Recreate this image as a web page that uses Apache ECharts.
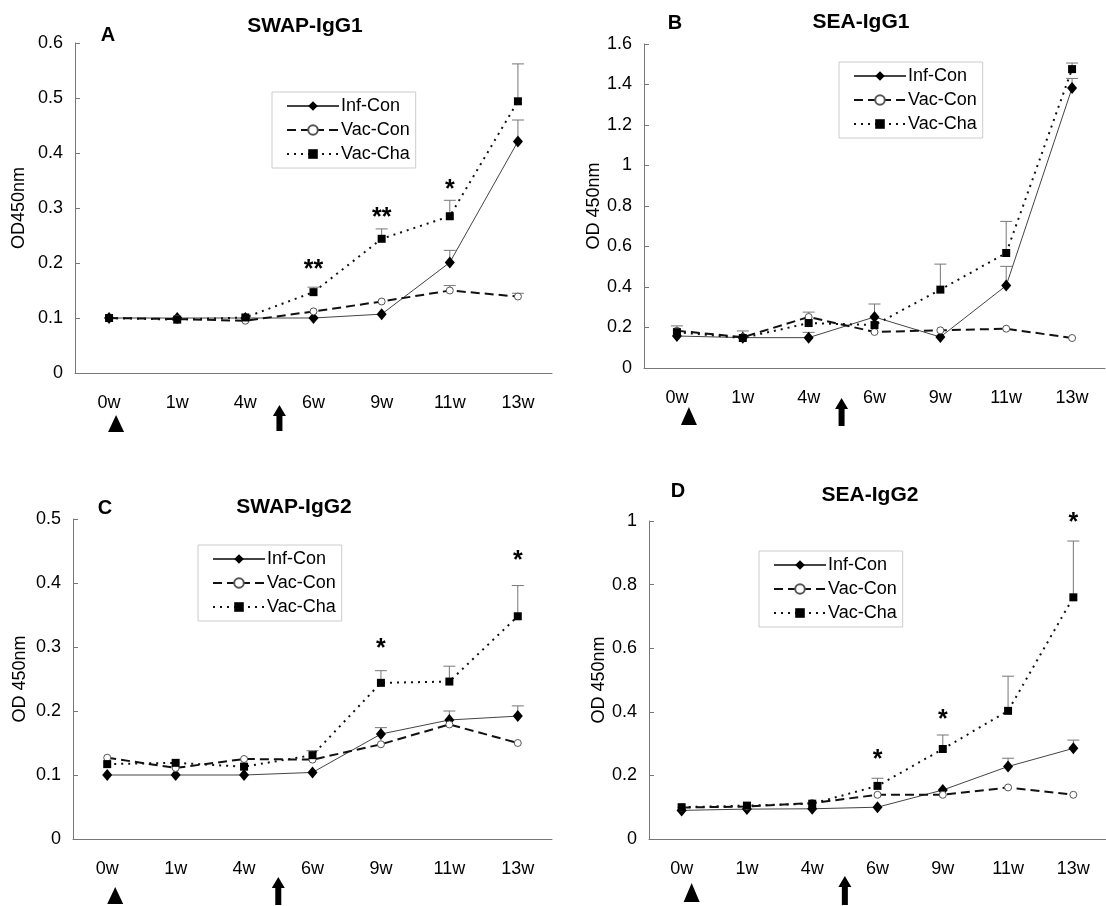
<!DOCTYPE html>
<html><head><meta charset="utf-8">
<script src="https://cdn.jsdelivr.net/npm/echarts@6/dist/echarts.min.js"></script>
<style>html,body{margin:0;padding:0;background:#fff}#c{width:1106px;height:906px}</style>
</head><body><div id="c"></div>
<script>
const categories = ['0w','1w','4w','6w','9w','11w','13w'];
const seriesNames = ['Inf-Con','Vac-Con','Vac-Cha'];

// Panel A: SWAP-IgG1
const aInfCon     = [0.100, 0.100, 0.100, 0.100, 0.107, 0.201, 0.421];
const aInfConErr  = [null, null, null, null, null, 0.223, 0.460];
const aVacCon     = [0.100, 0.098, 0.095, 0.112, 0.130, 0.150, 0.139];
const aVacConErr  = [null, null, null, null, null, 0.159, 0.145];
const aVacCha     = [0.100, 0.097, 0.101, 0.147, 0.244, 0.285, 0.494];
const aVacChaErr  = [null, null, null, 0.156, 0.262, 0.314, 0.562];
const aStarLevel  = [null, null, null, 0.198, 0.293, 0.344, null];
const aStarText   = ['', '', '', '**', '**', '*', ''];

// Panel B: SEA-IgG1
const bInfCon     = [0.158, 0.150, 0.150, 0.252, 0.153, 0.407, 1.383];
const bInfConErr  = [null, null, 0.176, 0.316, null, 0.502, 1.430];
const bVacCon     = [0.184, 0.152, 0.252, 0.178, 0.186, 0.194, 0.148];
const bVacConErr  = [0.208, 0.183, 0.276, null, null, null, null];
const bVacCha     = [0.177, 0.148, 0.222, 0.212, 0.387, 0.568, 1.476];
const bVacChaErr  = [null, null, null, null, 0.513, 0.724, 1.506];
const bStarLevel  = [null, null, null, null, null, null, null];
const bStarText   = ['', '', '', '', '', '', ''];

// Panel C: SWAP-IgG2
const cInfCon     = [0.100, 0.100, 0.100, 0.104, 0.164, 0.186, 0.192];
const cInfConErr  = [null, null, null, null, 0.174, 0.200, 0.208];
const cVacCon     = [0.127, 0.111, 0.125, 0.124, 0.148, 0.179, 0.150];
const cVacConErr  = [null, null, null, null, null, null, null];
const cVacCha     = [0.117, 0.119, 0.113, 0.131, 0.244, 0.246, 0.348];
const cVacChaErr  = [null, null, null, 0.138, 0.263, 0.270, 0.396];
const cStarLevel  = [null, null, null, null, 0.306, null, 0.444];
const cStarText   = ['', '', '', '', '*', '', '*'];

// Panel D: SEA-IgG2
const dInfCon     = [0.090, 0.094, 0.095, 0.100, 0.154, 0.228, 0.285];
const dInfConErr  = [null, null, null, null, null, 0.254, 0.311];
const dVacCon     = [0.099, 0.102, 0.113, 0.139, 0.139, 0.162, 0.139];
const dVacConErr  = [null, null, null, null, null, null, null];
const dVacCha     = [0.100, 0.105, 0.111, 0.167, 0.283, 0.403, 0.760];
const dVacChaErr  = [null, null, null, 0.191, 0.327, 0.512, 0.937];
const dStarLevel  = [null, null, null, 0.267, 0.393, null, 1.013];
const dStarText   = ['', '', '', '*', '*', '', '*'];

const FONT = "'Liberation Sans', Arial, sans-serif";

const panels = [
  {letter:'A', title:'SWAP-IgG1', yName:'OD450nm', max:0.6, interval:0.1,
   inf:aInfCon, infErr:aInfConErr, vcon:aVacCon, vconErr:aVacConErr, vcha:aVacCha, vchaErr:aVacChaErr, starLevel:aStarLevel, starText:aStarText,
   grid:{left:75, top:43, width:477, height:330}, titleX:300, titleY:11, letterX:103, letterY:20,
   legend:{left:272, top:92}, nameGap:47, tri:{dx:7, top:42, h:17}, arrow:{top:32, h:26}},
  {letter:'B', title:'SEA-IgG1', yName:'OD 450nm', max:1.6, interval:0.2,
   inf:bInfCon, infErr:bInfConErr, vcon:bVacCon, vconErr:bVacConErr, vcha:bVacCha, vchaErr:bVacChaErr, starLevel:bStarLevel, starText:bStarText,
   grid:{left:644, top:44, width:461, height:324}, titleX:856, titleY:7, letterX:670, letterY:8,
   legend:{left:839, top:62}, nameGap:34, tri:{dx:12, top:39, h:18}, arrow:{top:30, h:28}},
  {letter:'C', title:'SWAP-IgG2', yName:'OD 450nm', max:0.5, interval:0.1,
   inf:cInfCon, infErr:cInfConErr, vcon:cVacCon, vconErr:cVacConErr, vcha:cVacCha, vchaErr:cVacChaErr, starLevel:cStarLevel, starText:cStarText,
   grid:{left:73, top:519, width:479, height:320}, titleX:289, titleY:492, letterX:100, letterY:493,
   legend:{left:198, top:545}, nameGap:44, tri:{dx:8, top:48, h:17}, arrow:{top:38, h:28}},
  {letter:'D', title:'SEA-IgG2', yName:'OD 450nm', max:1.0, interval:0.2,
   inf:dInfCon, infErr:dInfConErr, vcon:dVacCon, vconErr:dVacConErr, vcha:dVacCha, vchaErr:dVacChaErr, starLevel:dStarLevel, starText:dStarText,
   grid:{left:649, top:521, width:467, height:318}, titleX:865, titleY:480, letterX:673, letterY:476,
   legend:{left:759, top:551}, nameGap:35, tri:{dx:10, top:44, h:19}, arrow:{top:37, h:29}}
];

const chart = echarts.init(document.getElementById('c'), null, {renderer:'canvas'});

const lineStyles = [
  {color:'#444', width:1, type:'solid'},
  {color:'#111', width:2, type:[9,5]},
  {color:'#111', width:2, type:[2,5]}
];
const symbols = [
  {symbol:'diamond', size:[10,12], item:{color:'#000'}},
  {symbol:'circle', size:7, item:{color:'#fff', borderColor:'#555', borderWidth:1}},
  {symbol:'rect', size:8, item:{color:'#000'}}
];

const grids=[], xAxes=[], yAxes=[], series=[], titles=[], legends=[];
panels.forEach((p,i)=>{
  grids.push(Object.assign({containLabel:false}, p.grid));
  xAxes.push({type:'category', gridIndex:i, data:categories, boundaryGap:true,
    axisLine:{lineStyle:{color:'#777', width:1}},
    axisTick:{inside:true, length:6, lineStyle:{color:'#777'}},
    axisLabel:{margin:21, fontSize:18, color:'#000', fontFamily:FONT},
    splitLine:{show:false}});
  yAxes.push({type:'value', gridIndex:i, min:0, max:p.max, interval:p.interval,
    name:p.yName, nameLocation:'middle', nameRotate:90, nameGap:p.nameGap,
    nameTextStyle:{fontSize:18, color:'#000', fontFamily:FONT},
    axisLine:{show:true, lineStyle:{color:'#777', width:1}},
    axisTick:{show:true, inside:true, length:5, lineStyle:{color:'#777'}},
    axisLabel:{margin:12, fontSize:18, color:'#000', fontFamily:FONT},
    splitLine:{show:false}});
  titles.push({text:p.title, left:p.titleX, top:p.titleY, textAlign:'center',
    textStyle:{fontSize:21, fontWeight:'bold', color:'#000', fontFamily:FONT}});
  titles.push({text:p.letter, left:p.letterX, top:p.letterY, textAlign:'center',
    textStyle:{fontSize:20, fontWeight:'bold', color:'#000', fontFamily:FONT}});
  legends.push({data:seriesNames, orient:'vertical', left:p.legend.left, top:p.legend.top,
    itemWidth:52, itemHeight:12, itemGap:6, padding:[5,6,5,14],
    borderColor:'#ccc', borderWidth:1, backgroundColor:'#fff', selectedMode:false,
    textStyle:{fontSize:18, color:'#000', fontFamily:FONT, padding:[0,0,0,-3]}});

  // error bars (upper SD only)
  const errSets = [[p.inf,p.infErr],[p.vcon,p.vconErr],[p.vcha,p.vchaErr]];
  const errData = [];
  errSets.forEach(([v,e])=>{ e.forEach((t,k)=>{ if(t!=null) errData.push([k, v[k], t]); }); });
  series.push({type:'custom', name:'err'+i, xAxisIndex:i, yAxisIndex:i, z:1, silent:true,
    data:errData, encode:{x:0, y:[1,2]},
    renderItem:(params, api)=>{
      const b = api.coord([api.value(0), api.value(1)]);
      const t = api.coord([api.value(0), api.value(2)]);
      const st = {stroke:'#777', lineWidth:1};
      return {type:'group', children:[
        {type:'line', shape:{x1:b[0], y1:b[1], x2:b[0], y2:t[1]}, style:st},
        {type:'line', shape:{x1:b[0]-6, y1:t[1], x2:b[0]+6, y2:t[1]}, style:st}
      ]};
    }});

  const vals = [p.inf, p.vcon, p.vcha];
  vals.forEach((v,k)=>{
    series.push({type:'line', name:seriesNames[k], xAxisIndex:i, yAxisIndex:i, data:v, z:2+k,
      symbol:symbols[k].symbol, symbolSize:symbols[k].size, showAllSymbol:true,
      itemStyle:symbols[k].item, lineStyle:lineStyles[k], animation:false});
  });

  // significance stars
  const starData=[];
  p.starLevel.forEach((lv,j)=>{ if(lv!=null) starData.push({name:p.starText[j], value:[j, lv]}); });
  series.push({type:'scatter', name:'stars'+i, xAxisIndex:i, yAxisIndex:i, data:starData, clip:false,
    symbolSize:1, itemStyle:{color:'rgba(255,255,255,0)', opacity:1}, silent:true, z:5,
    label:{show:true, position:'inside', formatter:'{b}', fontSize:25, fontWeight:'bold', color:'#000', opacity:1, fontFamily:FONT, offset:[0,6]}});
});

chart.setOption({backgroundColor:'#fff', animation:false, title:titles, legend:legends,
  grid:grids, xAxis:xAxes, yAxis:yAxes, series:series});

// triangle (first immunisation at 0w) and arrow (challenge between 4w and 6w)
const graphics=[];
panels.forEach((p,i)=>{
  const p0 = chart.convertToPixel({gridIndex:i}, [categories[0], 0]);
  const p4 = chart.convertToPixel({gridIndex:i}, [categories[2], 0]);
  const p6 = chart.convertToPixel({gridIndex:i}, [categories[3], 0]);
  const tx = p0[0] + p.tri.dx, ty = p0[1] + p.tri.top, th = p.tri.h;
  graphics.push({type:'polygon', shape:{points:[[tx-8, ty+th],[tx+8, ty+th],[tx, ty]]}, style:{fill:'#000'}});
  const ax = (p4[0]+p6[0])/2, ay = p0[1] + p.arrow.top, ah = p.arrow.h;
  graphics.push({type:'polygon', shape:{points:[[ax, ay],[ax+6.5, ay+11],[ax+3, ay+11],[ax+3, ay+ah],[ax-3, ay+ah],[ax-3, ay+11],[ax-6.5, ay+11]]}, style:{fill:'#000'}});
});
chart.setOption({graphic:graphics});
</script></body></html>
